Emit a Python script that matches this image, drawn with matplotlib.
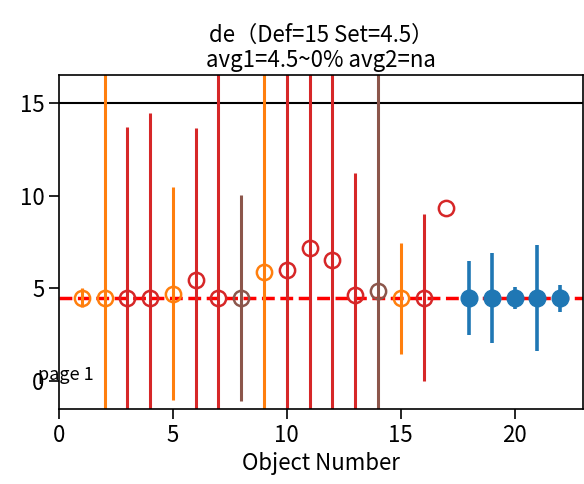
import numpy as np
import matplotlib
matplotlib.use('Agg')
from matplotlib import pyplot as plt

plt.rcParams['font.family'] = ['Noto Sans CJK JP', 'DejaVu Sans']

# open circles (objects 1-17)
obj_open = [1, 2, 3, 4, 5, 6, 7, 8, 9, 10, 11, 12, 13, 14, 15, 16, 17]
val_open = [4.5, 4.5, 4.5, 4.5, 4.72, 5.47, 4.5, 4.48, 5.87, 6.0, 7.15, 6.53, 4.63, 4.86, 4.47, 4.5, 9.34]
err_open = [0.5, 15, 9.2, 9.97, 5.73, 8.18, 15, 5.55, 15, 15, 15, 15, 6.58, 15, 3.0, 4.5, 0]
col_open = ['tab:orange', 'tab:orange', 'tab:red', 'tab:red', 'tab:orange', 'tab:red',
            'tab:red', 'tab:brown', 'tab:orange', 'tab:red', 'tab:red', 'tab:red',
            'tab:red', 'tab:brown', 'tab:orange', 'tab:red', 'tab:red']

# filled points (objects 18-22)
obj_fill = [18, 19, 20, 21, 22]
val_fill = [4.48, 4.48, 4.47, 4.48, 4.47]
err_fill = [2.0, 2.43, 0.6, 2.87, 0.72]

def_val = 15
set_val = 4.5

fig = plt.figure(figsize=(5.84, 4.84), dpi=100)
ax = fig.add_axes([59/584, 1-409/484, 524/584, 334/484])

ax.axhline(def_val, color='k', lw=1.5, zorder=1)
ax.axhline(set_val, color='r', ls='--', lw=2.5, zorder=1)

for x, y, e, c in zip(obj_open, val_open, err_open, col_open):
    if e > 0:
        ax.errorbar(x, y, yerr=e, fmt='o', color=c, mfc='none', mec=c,
                    ms=11, mew=1.8, elinewidth=2.2, capsize=0, zorder=2)
    else:
        ax.plot(x, y, 'o', mfc='none', mec=c, ms=11, mew=1.8, zorder=2)

ax.errorbar(obj_fill, val_fill, yerr=err_fill, fmt='o', color='tab:blue',
            ms=12, elinewidth=2.6, capsize=0, zorder=3)

ax.set_xlim(0, 23)
ax.set_ylim(-1.5, 16.5)
ax.set_xticks([0, 5, 10, 15, 20])
ax.set_yticks([0, 5, 10, 15])
ax.tick_params(labelsize=16, length=7, width=1.2)
for s in ax.spines.values():
    s.set_linewidth(1.2)
ax.set_xlabel('Object Number', fontsize=16)
ax.set_title('de（Def=15 Set=4.5）\navg1=4.5~0% avg2=na', fontsize=16, linespacing=1.1)
ax.text(-0.9, 0.05, 'page 1', fontsize=13, clip_on=False)

plt.savefig('out.png', dpi=100)
